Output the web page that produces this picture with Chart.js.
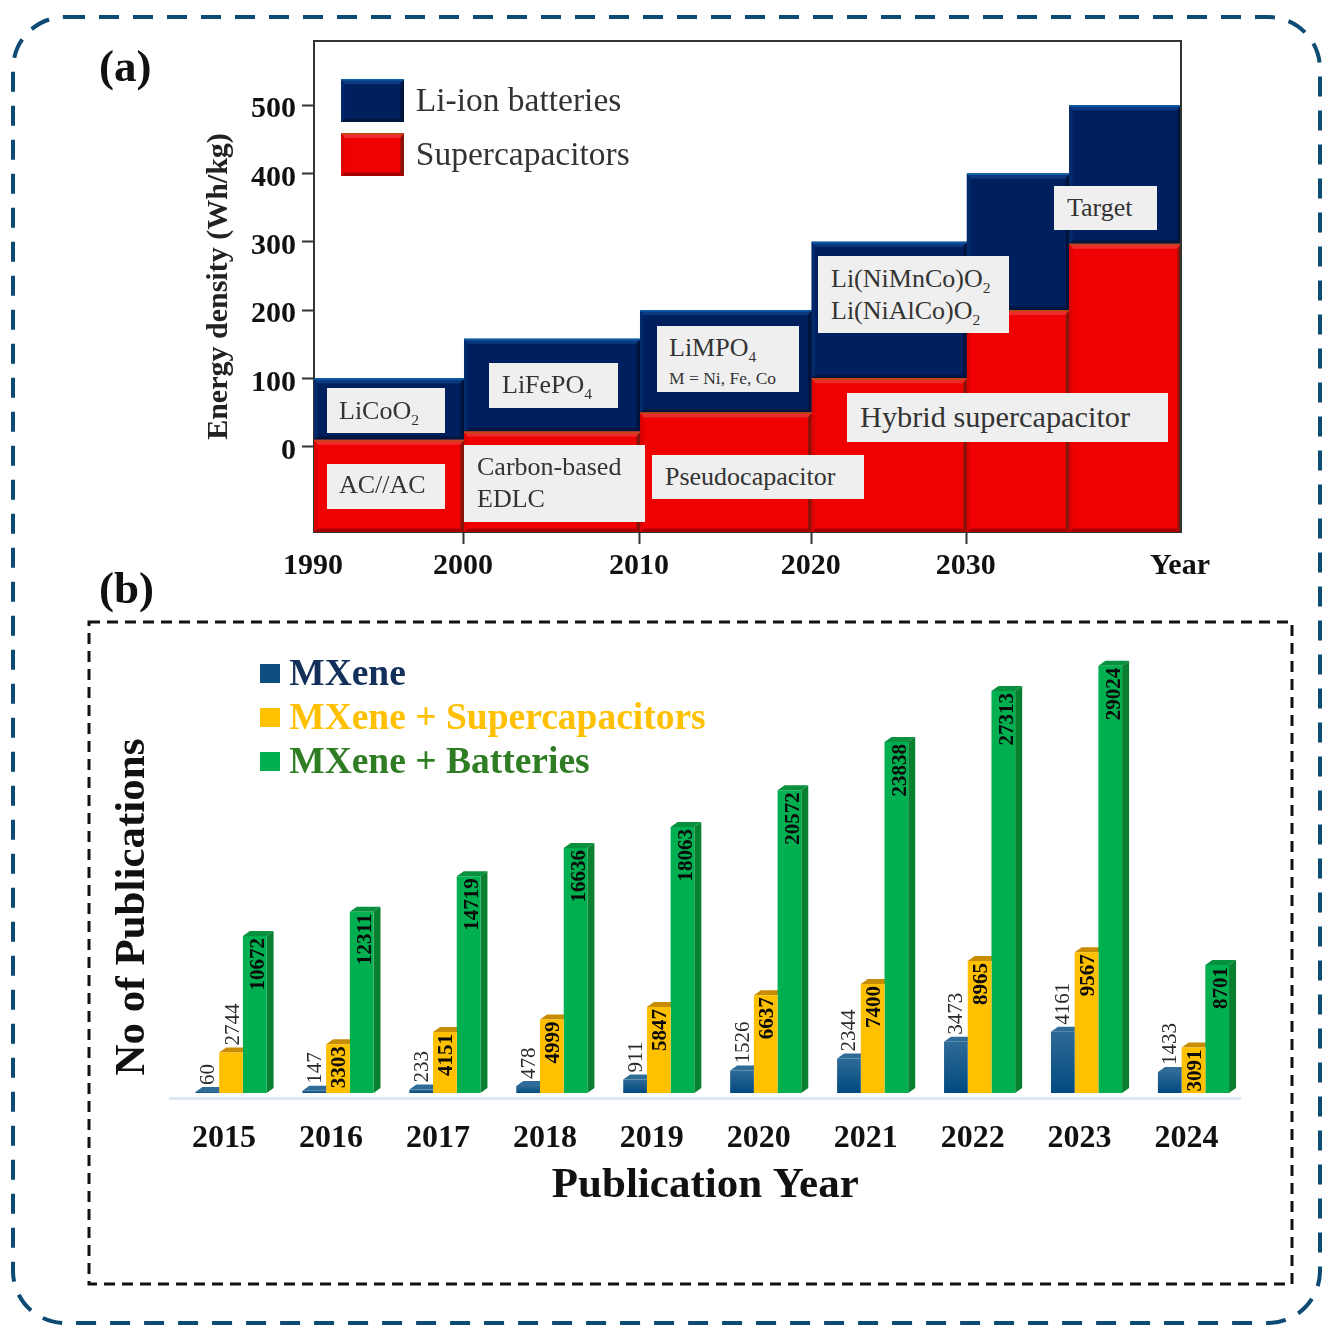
<!DOCTYPE html>
<html><head><meta charset="utf-8">
<script src="https://cdn.jsdelivr.net/npm/chart.js@4/dist/chart.umd.js"></script>
<style>
html,body{margin:0;padding:0;background:#fff;overflow:hidden}
#page{position:relative;width:1322px;height:1326px;font-family:"Liberation Serif",serif;filter:blur(0.5px)}
canvas{position:absolute;left:0}
svg{position:absolute;left:0;top:0}
.note{position:absolute;background:#efefef;color:#333;display:flex;flex-direction:column;justify-content:center;box-sizing:border-box;line-height:1.22;white-space:nowrap}
.note sub{font-size:.6em;line-height:0}
.note span{display:block;font-size:17.5px;line-height:1.6}
.note div{position:relative}
.panel{position:absolute;font-weight:bold;font-size:45px;color:#111;line-height:1}
</style></head><body>
<div id="page">
<svg width="1322" height="1326">
<rect x="13" y="17" width="1307" height="1306" rx="52" fill="none" stroke="#0d4a74" stroke-width="4" stroke-dasharray="20 14"/>
<rect x="89" y="622" width="1203" height="662" fill="none" stroke="#111" stroke-width="3" stroke-dasharray="11 7"/>
</svg>
<canvas id="a" width="1322" height="600" style="top:0;width:1322px;height:600px"></canvas>
<canvas id="b" width="1322" height="614" style="top:600px;width:1322px;height:614px"></canvas>
<div class="panel" style="left:99px;top:44px">(a)</div>
<div class="panel" style="left:99px;top:566px">(b)</div>
<div id="notes"></div>
</div>
<script>
// ---------- panel (a) data ----------
const edgeYears = [1990, 2000, 2010, 2020, 2030, 2035, 2040];
const liIon     = [100, 158, 200, 300, 400, 500];
const superCap  = [10, 22, 50, 100, 200, 297];
const aYTicks   = [0, 100, 200, 300, 400, 500];
const aXTicks   = [1990, 2000, 2010, 2020, 2030, 2040];
const aXMarked  = [2000, 2010, 2020, 2030];
const aEdgeFractions = [0, 0.173, 0.376, 0.574, 0.753, 0.871, 1];
const aSeriesNames = ['Li-ion batteries', 'Supercapacitors'];

// ---------- panel (b) data ----------
const pubYears = ['2015','2016','2017','2018','2019','2020','2021','2022','2023','2024'];
const mxene    = [60, 147, 233, 478, 911, 1526, 2344, 3473, 4161, 1433];
const mxeneSC  = [2744, 3303, 4151, 4999, 5847, 6637, 7400, 8965, 9567, 3091];
const mxeneBat = [10672, 12311, 14719, 16636, 18063, 20572, 23838, 27313, 29024, 8701];
const bSeriesNames = ['MXene', 'MXene + Supercapacitors', 'MXene + Batteries'];

const SERIF = '"Liberation Serif", serif';

// Text boxes of panel (a)
const notes = [
  [327,388,118,45,26,12,'LiCoO<sub>2</sub>',0],
  [327,464,118,45,26,12,'AC//AC',-2],
  [489,363,129,45,26,13,'LiFePO<sub>4</sub>',-1],
  [464,445,181,77,26,13,'Carbon-based<br>EDLC',-1],
  [657,326,142,66,26,12,'LiMPO<sub>4</sub><span>M = Ni, Fe, Co</span>',3],
  [652,455,212,44,26,13,'Pseudocapacitor',0],
  [818,256,191,77,26,13,'Li(NiMnCo)O<sub>2</sub><br>Li(NiAlCo)O<sub>2</sub>',0],
  [847,393,321,49,30.3,13,'Hybrid supercapacitor',0],
  [1054,186,103,44,26,13,'Target',0]
];
document.getElementById('notes').innerHTML = notes.map(n =>
  `<div class="note" style="left:${n[0]}px;top:${n[1]}px;width:${n[2]}px;height:${n[3]}px;font-size:${n[4]}px;padding-left:${n[5]}px"><div style="top:${n[7]}px">${n[6]}</div></div>`).join('');

// Year axis of panel (a) is not uniform: pixel position is piecewise between the labelled years.
class PiecewiseScale extends Chart.LinearScale {
  getPixelForValue(v) {
    const o = this.options.breaks, f = this.options.fractions;
    let i = 0;
    while (i < o.length - 2 && v > o[i + 1]) i++;
    const t = (v - o[i]) / (o[i + 1] - o[i]);
    return this.left + this.width * (f[i] + t * (f[i + 1] - f[i]));
  }
}
PiecewiseScale.id = 'piecewise';
PiecewiseScale.defaults = Chart.LinearScale.defaults;
Chart.register(PiecewiseScale);

const BLUE = {main:'#001f5f', top:'#0b3a80', edge:'#0c62ad', right:'#00143c', bottom:'#00153f', left:'#032a6a'};
const RED  = {main:'#f00000', top:'#ea2c2c', edge:'#c04a10', right:'#86140a', bottom:'#a80000', left:'#dc0000'};

function bevel(ctx, x0, x1, y0, y1, c) {
  const poly = (pts, col) => { ctx.fillStyle = col; ctx.beginPath();
    pts.forEach((p, i) => i ? ctx.lineTo(p[0], p[1]) : ctx.moveTo(p[0], p[1])); ctx.closePath(); ctx.fill(); };
  const t = 5, s = 3.5;
  poly([[x0,y0],[x1,y0],[x1-s,y0+t],[x0+s,y0+t]], c.top);
  poly([[x1,y0],[x1,y1],[x1-s,y1-s],[x1-s,y0+t]], c.right);
  poly([[x0,y1],[x1,y1],[x1-s,y1-s],[x0+s,y1-s]], c.bottom);
  poly([[x0,y0],[x0,y1],[x0+s,y1-s],[x0+s,y0+t]], c.left);
  ctx.fillStyle = c.edge;
  ctx.fillRect(x0, y0, x1 - x0, 1.5);
}

const panelA = {
  id: 'panelA',
  afterLayout(chart) {
    const l = chart.legend, p = l.options.labels.padding;
    l.left = 341 - p; l.top = 81 - p; l.right = 1300; l.bottom = 590;
    l.adjustHitBoxes();
  },
  afterDatasetsDraw(chart) {
    const {ctx, scales:{x, y}, chartArea:ca} = chart;
    ctx.save();
    for (let i = 0; i < liIon.length; i++) {
      const x0 = x.getPixelForValue(edgeYears[i]), x1 = x.getPixelForValue(edgeYears[i + 1]);
      const yh = y.getPixelForValue(liIon[i]), ym = y.getPixelForValue(superCap[i]);
      bevel(ctx, x0, x1, yh, ym, BLUE);
      bevel(ctx, x0, x1, ym, ca.bottom, RED);
    }
    ctx.restore();
  },
  afterDraw(chart) {
    const {ctx, chartArea:ca} = chart, l = chart.legend;
    ctx.save();
    ctx.strokeStyle = '#333'; ctx.lineWidth = 2;
    ctx.beginPath(); ctx.moveTo(ca.left, ca.top); ctx.lineTo(ca.right, ca.top); ctx.lineTo(ca.right, ca.bottom); ctx.stroke();
    l.legendHitBoxes.forEach((h, i) => {
      const c = i ? RED : BLUE, x0 = l.left + l.options.labels.padding, y0 = h.top - 2, x1 = x0 + 63, y1 = y0 + 43;
      ctx.fillStyle = '#fff'; ctx.fillRect(x0, y0, 63, 46);
      ctx.fillStyle = c.main; ctx.fillRect(x0, y0, 63, 43);
      bevel(ctx, x0, x1, y0, y1, c);
    });
    ctx.restore();
  }
};

new Chart(document.getElementById('a'), {
  type: 'line',
  data: { datasets: [
    { label: aSeriesNames[0], data: edgeYears.map((e, i) => ({x: e, y: liIon[Math.min(i, liIon.length - 1)]})),
      stepped: 'before', borderWidth: 0, pointRadius: 0, backgroundColor: BLUE.main, borderColor: BLUE.main, fill: 1 },
    { label: aSeriesNames[1], data: edgeYears.map((e, i) => ({x: e, y: superCap[Math.min(i, superCap.length - 1)]})),
      stepped: 'before', borderWidth: 0, pointRadius: 0, backgroundColor: RED.main, borderColor: RED.main, fill: 'start' }
  ]},
  options: {
    responsive: false, animation: false, events: [],
    layout: { padding: { left: 201, right: 141, top: 41, bottom: 0 } },
    scales: {
      x: { type: 'piecewise', min: 1990, max: 2040, breaks: edgeYears, fractions: aEdgeFractions,
        afterBuildTicks: s => { s.ticks = aXTicks.map(v => ({value: v})); },
        afterFit: s => { s.height = 68; },
        border: { color: '#333', width: 2 },
        grid: { drawOnChartArea: false, tickLength: 12, tickWidth: 2,
          tickColor: c => (c.tick && aXMarked.includes(c.tick.value)) ? '#333' : 'rgba(0,0,0,0)' },
        ticks: { autoSkip: false, maxRotation: 0, padding: 4, labelOffset: -1, color: '#111',
          font: { family: SERIF, size: 30, weight: 'bold' },
          callback: v => v === 2040 ? 'Year' : String(v) } },
      y: { min: -125, max: 594,
        afterBuildTicks: s => { s.ticks = aYTicks.map(v => ({value: v})); },
        afterFit: s => { s.width = 113; },
        border: { color: '#333', width: 2 },
        grid: { drawOnChartArea: false, tickLength: 12, tickWidth: 2, tickColor: '#333' },
        ticks: { padding: 6, labelOffset: 4.5, color: '#111', font: { family: SERIF, size: 30, weight: 'bold' } },
        title: { display: true, text: 'Energy density (Wh/kg)', color: '#222', padding: 0,
          font: { family: SERIF, size: 30, weight: 'bold' } } }
    },
    plugins: {
      title: { display: false }, tooltip: { enabled: false },
      legend: { position: 'chartArea', align: 'start',
        labels: { boxWidth: 58, boxHeight: 43, padding: 11, color: '#333',
          font: { family: SERIF, size: 33.5 } } }
    }
  },
  plugins: [panelA]
});

// ---------- panel (b) ----------
const BAR_STYLES = [
  { flat:'#0d4f80', top:'#2f6c97', upper:'#2f6a96', lower:'#004a80', text:'#12305a', labelShift:1 },
  { flat:'#ffc000', top:'#c98d05', upper:'#ffc000', lower:'#ffc000', text:'#ffc000', labelShift:2 },
  { flat:'#00b050', top:'#07913f', upper:'#00b050', lower:'#00b050', text:'#2e7d23', side:'#08802f', labelShift:4 }
];
const DEPTH_X = 7, DEPTH_Y = 5;

const barFill = i => ctx => {
  const st = BAR_STYLES[i];
  if (ctx.type !== 'data' || !ctx.parsed || !ctx.chart.scales.y) return st.flat;
  const y = ctx.chart.scales.y, y0 = y.getPixelForValue(ctx.parsed.y), y1 = y.getPixelForValue(0);
  if (!Number.isFinite(y0) || !Number.isFinite(y1)) return st.flat;
  const g = ctx.chart.ctx.createLinearGradient(0, y0, 0, y1);
  g.addColorStop(0, st.upper); g.addColorStop(1, st.lower);
  return g;
};

const panelB = {
  id: 'panelB',
  afterLayout(chart) {
    const l = chart.legend, p = l.options.labels.padding;
    l.left = 260 - p; l.top = 57 - p; l.right = 1300; l.bottom = 600;
    l.adjustHitBoxes();
  },
  // The sides and tops of all bars go first, so each bar's front hides its left neighbour's depth.
  beforeDatasetsDraw(chart) {
    const ctx = chart.ctx;
    ctx.save();
    chart.data.datasets.forEach((ds, di) => {
      const st = BAR_STYLES[di];
      chart.getDatasetMeta(di).data.forEach(el => {
        const w = el.width, l = el.x - w / 2, r = el.x + w / 2;
        ctx.fillStyle = st.top; ctx.beginPath();
        ctx.moveTo(l, el.y); ctx.lineTo(l + DEPTH_X, el.y - DEPTH_Y); ctx.lineTo(r + DEPTH_X, el.y - DEPTH_Y); ctx.lineTo(r, el.y);
        ctx.closePath(); ctx.fill();
        if (st.side) {
          ctx.fillStyle = st.side; ctx.beginPath();
          ctx.moveTo(r, el.y); ctx.lineTo(r + DEPTH_X, el.y - DEPTH_Y); ctx.lineTo(r + DEPTH_X, el.base - DEPTH_Y); ctx.lineTo(r, el.base);
          ctx.closePath(); ctx.fill();
        }
      });
    });
    ctx.restore();
  },
  afterDatasetsDraw(chart) {
    const ctx = chart.ctx;
    ctx.save();
    chart.data.datasets.forEach((ds, di) => {
      chart.getDatasetMeta(di).data.forEach((el, i) => {
        const v = ds.data[i], above = di === 0 || (di === 1 && v < 3000);
        ctx.save();
        ctx.translate(el.x + BAR_STYLES[di].labelShift, above ? el.y - DEPTH_Y - 2 : el.y + 2);
        ctx.rotate(-Math.PI / 2);
        ctx.font = (above ? '' : 'bold ') + '21px ' + SERIF;
        ctx.fillStyle = above ? '#2a2a2a' : '#0a0a0a';
        ctx.textAlign = above ? 'left' : 'right';
        ctx.textBaseline = 'middle';
        ctx.fillText(String(v), 0, 0);
        ctx.restore();
      });
    });
    ctx.restore();
  },
  afterDraw(chart) {
    const ctx = chart.ctx, l = chart.legend;
    ctx.save();
    l.legendHitBoxes.forEach((h, i) => {
      const x0 = l.left + l.options.labels.padding;
      ctx.fillStyle = '#fff'; ctx.fillRect(x0, h.top, 12, h.height);
      ctx.fillStyle = BAR_STYLES[i].flat;
      ctx.fillRect(x0, h.top + 7, 20, 19);
    });
    ctx.restore();
  }
};

const barSets = [mxene, mxeneSC, mxeneBat].map((vals, i) => ({
  label: bSeriesNames[i], data: vals, xAxisID: 'xBars',
  backgroundColor: barFill(i), borderWidth: 0,
  barPercentage: 1, categoryPercentage: 0.665
}));

new Chart(document.getElementById('b'), {
  type: 'bar',
  data: { labels: pubYears, datasets: barSets },
  options: {
    responsive: false, animation: false, events: [],
    layout: { padding: { left: 95, right: 82, top: 0, bottom: 0 } },
    scales: {
      x: { type: 'category', offset: true,
        afterFit: s => { s.height = 116; },
        border: { color: '#dde7f6', width: 3 },
        grid: { display: false },
        ticks: { autoSkip: false, maxRotation: 0, padding: 14, color: '#111',
          font: { family: SERIF, size: 32, weight: 'bold' } },
        title: { display: true, text: 'Publication Year', color: '#111', padding: { top: 0, bottom: 2 },
          font: { family: SERIF, size: 43, weight: 'bold' } } },
      xBars: { type: 'linear', display: false, offset: false, min: 2014.435, max: 2024.435, grid: { offset: false } },
      y: { display: false, min: -340, max: 33490, grid: { display: false } }
    },
    plugins: {
      tooltip: { enabled: false },
      title: { display: true, position: 'left', text: 'No of Publications', color: '#111',
        padding: { top: 12, bottom: 12 }, font: { family: SERIF, size: 43, weight: 'bold' } },
      legend: { position: 'chartArea', align: 'start',
        labels: { boxWidth: 10.5, boxHeight: 19, padding: 6.5,
          font: { family: SERIF, size: 37.5, weight: 'bold', lineHeight: 1 },
          sort: (a, b) => a.datasetIndex - b.datasetIndex,
          generateLabels: c => Chart.defaults.plugins.legend.labels.generateLabels(c)
            .map(it => Object.assign(it, { fontColor: BAR_STYLES[it.datasetIndex].text, fillStyle: BAR_STYLES[it.datasetIndex].flat, lineWidth: 0 })) } }
    }
  },
  plugins: [panelB]
});
</script>
</body></html>
